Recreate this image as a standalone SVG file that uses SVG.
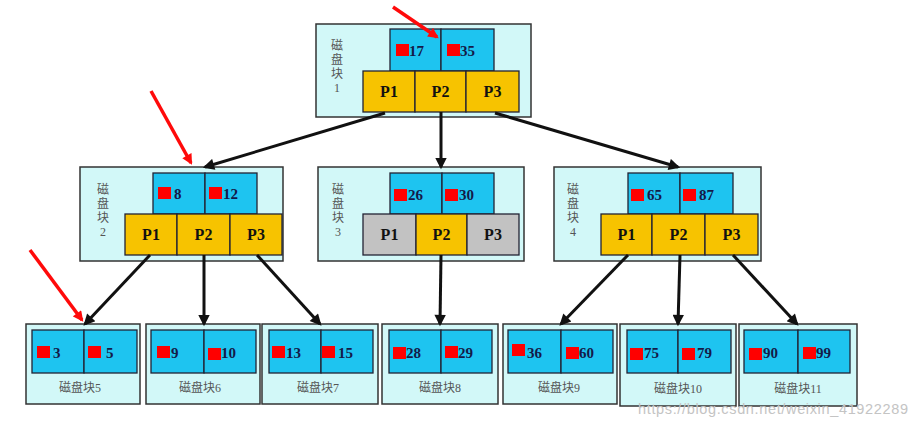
<svg xmlns="http://www.w3.org/2000/svg" width="918" height="428" viewBox="0 0 918 428">
<style>
.outer{fill:#d2f8f8;stroke:#333;stroke-width:1.5}
.key{fill:#1ec4f0;stroke:#223;stroke-width:1.3}
.ptr{fill:#f7c300;stroke:#223;stroke-width:1.3}
.gray{fill:#c2c2c2;stroke:#223;stroke-width:1.3}
.red{fill:#ff0000}
.num{font-family:"Liberation Serif",serif;font-weight:bold;font-size:15px;fill:#141a48}
.p{font-family:"Liberation Serif",serif;font-weight:bold;font-size:16px;fill:#111;text-anchor:middle}
.lbl{font-family:"Liberation Serif","Noto Sans CJK SC",serif;font-size:12px;fill:#555;text-anchor:middle}
.conn{stroke:#111;stroke-width:3;fill:none}
.ann{stroke:#ff0a0a;stroke-width:3.5;fill:none}
.wm{font-family:"Liberation Sans",Arial,sans-serif;font-size:14.5px;fill:#c4c4c4}
</style>
<defs>
<marker id="ah" viewBox="0 0 10 10" refX="8" refY="5" markerWidth="4.3" markerHeight="3.8" orient="auto" markerUnits="strokeWidth">
<path d="M0,0 L10,5 L0,10 z" fill="#111"/>
</marker>
<marker id="rh" viewBox="0 0 10 10" refX="8" refY="5" markerWidth="3.4" markerHeight="3" orient="auto" markerUnits="strokeWidth">
<path d="M0,0 L10,5 L0,10 z" fill="#ff0a0a"/>
</marker>
</defs>

<g id="node1">
<rect class="outer" x="316" y="24" width="215" height="93"/>
<text class="lbl" x="337" y="50">磁</text><text class="lbl" x="337" y="64">盘</text><text class="lbl" x="337" y="78">块</text><text class="lbl" x="337" y="92">1</text>
<rect class="key" x="390" y="29" width="51" height="42"/><rect class="key" x="441" y="29" width="53" height="42"/>
<rect class="red" x="396" y="44" width="13" height="12"/><text class="num" x="409" y="56">17</text>
<rect class="red" x="447" y="44" width="13" height="12"/><text class="num" x="460" y="56">35</text>
<rect class="ptr" x="363" y="71" width="52" height="41"/><rect class="ptr" x="415" y="71" width="51" height="41"/><rect class="ptr" x="466" y="71" width="53" height="41"/>
<text class="p" x="389" y="97">P1</text><text class="p" x="440.5" y="97">P2</text><text class="p" x="492.5" y="97">P3</text>
</g>

<g id="node2">
<rect class="outer" x="80" y="167" width="203" height="94"/>
<text class="lbl" x="103" y="194">磁</text><text class="lbl" x="103" y="208">盘</text><text class="lbl" x="103" y="222">块</text><text class="lbl" x="103" y="236">2</text>
<rect class="key" x="153" y="173" width="52" height="41"/><rect class="key" x="205" y="173" width="52" height="41"/>
<rect class="red" x="158" y="187" width="13" height="12"/><text class="num" x="174" y="199">8</text>
<rect class="red" x="209" y="187" width="13" height="12"/><text class="num" x="223" y="199">12</text>
<rect class="ptr" x="125" y="214" width="52" height="41"/><rect class="ptr" x="177" y="214" width="53" height="41"/><rect class="ptr" x="230" y="214" width="52" height="41"/>
<text class="p" x="151" y="240">P1</text><text class="p" x="203.5" y="240">P2</text><text class="p" x="256" y="240">P3</text>
</g>

<g id="node3">
<rect class="outer" x="318" y="167" width="206" height="94"/>
<text class="lbl" x="338" y="194">磁</text><text class="lbl" x="338" y="208">盘</text><text class="lbl" x="338" y="222">块</text><text class="lbl" x="338" y="236">3</text>
<rect class="key" x="390" y="173" width="52" height="41"/><rect class="key" x="442" y="173" width="52" height="41"/>
<rect class="red" x="394" y="189" width="13" height="12"/><text class="num" x="408" y="200">26</text>
<rect class="red" x="445" y="189" width="13" height="12"/><text class="num" x="459" y="200">30</text>
<rect class="gray" x="363" y="214" width="53" height="41"/><rect class="ptr" x="416" y="214" width="51" height="41"/><rect class="gray" x="467" y="214" width="52" height="41"/>
<text class="p" x="389.5" y="240">P1</text><text class="p" x="441.5" y="240">P2</text><text class="p" x="493" y="240">P3</text>
</g>

<g id="node4">
<rect class="outer" x="554" y="167" width="207" height="94"/>
<text class="lbl" x="573" y="194">磁</text><text class="lbl" x="573" y="208">盘</text><text class="lbl" x="573" y="222">块</text><text class="lbl" x="573" y="236">4</text>
<rect class="key" x="628" y="173" width="52" height="41"/><rect class="key" x="680" y="173" width="53" height="41"/>
<rect class="red" x="631" y="189" width="13" height="12"/><text class="num" x="647" y="200">65</text>
<rect class="red" x="683" y="189" width="13" height="12"/><text class="num" x="699" y="200">87</text>
<rect class="ptr" x="601" y="214" width="51" height="41"/><rect class="ptr" x="652" y="214" width="53" height="41"/><rect class="ptr" x="705" y="214" width="53" height="41"/>
<text class="p" x="626.5" y="240">P1</text><text class="p" x="678.5" y="240">P2</text><text class="p" x="731.5" y="240">P3</text>
</g>

<g id="node5">
<rect class="outer" x="26" y="324" width="114" height="80"/>
<rect class="key" x="32" y="330" width="52" height="43"/><rect class="key" x="84" y="330" width="53" height="43"/>
<rect class="red" x="37" y="346" width="13" height="12"/><text class="num" x="53" y="358">3</text>
<rect class="red" x="88" y="346" width="13" height="12"/><text class="num" x="106" y="358">5</text>
<text class="lbl" x="80" y="392">磁盘块5</text>
</g>

<g id="node6">
<rect class="outer" x="146" y="324" width="114" height="80"/>
<rect class="key" x="151" y="330" width="53" height="43"/><rect class="key" x="204" y="330" width="52" height="43"/>
<rect class="red" x="157" y="346" width="13" height="12"/><text class="num" x="171" y="358">9</text>
<rect class="red" x="208" y="348" width="13" height="12"/><text class="num" x="221" y="358">10</text>
<text class="lbl" x="200" y="392">磁盘块6</text>
</g>

<g id="node7">
<rect class="outer" x="262" y="324" width="116" height="80"/>
<rect class="key" x="269" y="330" width="52" height="43"/><rect class="key" x="321" y="330" width="52" height="43"/>
<rect class="red" x="272" y="346" width="13" height="12"/><text class="num" x="286" y="358">13</text>
<rect class="red" x="322" y="346" width="13" height="12"/><text class="num" x="338" y="358">15</text>
<text class="lbl" x="318" y="392">磁盘块7</text>
</g>

<g id="node8">
<rect class="outer" x="382" y="324" width="116" height="80"/>
<rect class="key" x="389" y="330" width="52" height="43"/><rect class="key" x="441" y="330" width="51" height="43"/>
<rect class="red" x="393" y="347" width="13" height="12"/><text class="num" x="406" y="358">28</text>
<rect class="red" x="445" y="346" width="13" height="12"/><text class="num" x="458" y="358">29</text>
<text class="lbl" x="440" y="392">磁盘块8</text>
</g>

<g id="node9">
<rect class="outer" x="503" y="324" width="114" height="80"/>
<rect class="key" x="508" y="330" width="53" height="43"/><rect class="key" x="561" y="330" width="52" height="43"/>
<rect class="red" x="512" y="344" width="13" height="12"/><text class="num" x="527" y="358">36</text>
<rect class="red" x="566" y="347" width="13" height="12"/><text class="num" x="579" y="358">60</text>
<text class="lbl" x="559" y="392">磁盘块9</text>
</g>

<g id="node10">
<rect class="outer" x="620" y="324" width="116" height="82"/>
<rect class="key" x="627" y="330" width="51" height="43"/><rect class="key" x="678" y="330" width="53" height="43"/>
<rect class="red" x="630" y="348" width="13" height="12"/><text class="num" x="644" y="358">75</text>
<rect class="red" x="682" y="348" width="13" height="12"/><text class="num" x="697" y="358">79</text>
<text class="lbl" x="678" y="393">磁盘块10</text>
</g>

<g id="node11">
<rect class="outer" x="739" y="324" width="118" height="82"/>
<rect class="key" x="744" y="330" width="54" height="43"/><rect class="key" x="798" y="330" width="52" height="43"/>
<rect class="red" x="749" y="348" width="13" height="12"/><text class="num" x="763" y="358">90</text>
<rect class="red" x="803" y="347" width="13" height="12"/><text class="num" x="816" y="358">99</text>
<text class="lbl" x="798" y="393">磁盘块11</text>
</g>

<g id="connectors">
<line class="conn" x1="385" y1="113" x2="205" y2="167" marker-end="url(#ah)"/>
<line class="conn" x1="441" y1="112" x2="441" y2="167" marker-end="url(#ah)"/>
<line class="conn" x1="495" y1="113" x2="678" y2="167" marker-end="url(#ah)"/>
<line class="conn" x1="150" y1="255" x2="85" y2="324" marker-end="url(#ah)"/>
<line class="conn" x1="204" y1="255" x2="204" y2="324" marker-end="url(#ah)"/>
<line class="conn" x1="257" y1="255" x2="320" y2="324" marker-end="url(#ah)"/>
<line class="conn" x1="441" y1="255" x2="440" y2="324" marker-end="url(#ah)"/>
<line class="conn" x1="628" y1="255" x2="561" y2="324" marker-end="url(#ah)"/>
<line class="conn" x1="680" y1="255" x2="678" y2="324" marker-end="url(#ah)"/>
<line class="conn" x1="733" y1="255" x2="797" y2="324" marker-end="url(#ah)"/>
</g>

<g id="annotations">
<line class="ann" x1="393" y1="7" x2="437" y2="37" marker-end="url(#rh)"/>
<line class="ann" x1="151" y1="91" x2="191" y2="163" marker-end="url(#rh)"/>
<line class="ann" x1="30" y1="250" x2="82" y2="320" marker-end="url(#rh)"/>
</g>

<text class="wm" x="638" y="414" textLength="270">https://blog.csdn.net/weixin_41922289</text>
</svg>
